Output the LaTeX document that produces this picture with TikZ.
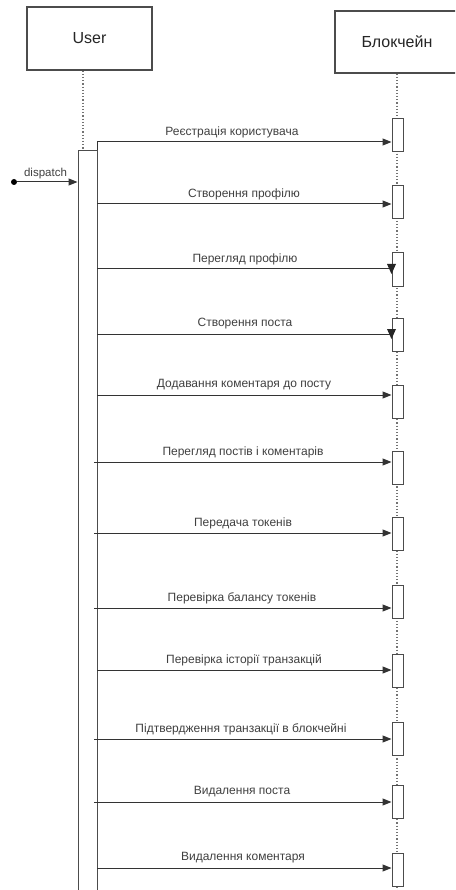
\documentclass[tikz,border=0pt]{standalone}
\usepackage{fontspec}
\setmainfont{Liberation Sans}
\usetikzlibrary{arrows.meta}
\begin{document}
\begin{tikzpicture}[x=1pt,y=-1pt,
 head/.style={draw=black!70, line width=1.2pt, fill=white, font=\fontsize{16}{18}\selectfont, text=black!85},
 actbox/.style={draw=black!70, line width=1pt, fill=white, minimum width=11pt, minimum height=33pt, inner sep=0pt},
 life/.style={draw=black!55, line width=1.2pt, dotted},
 msg/.style={draw=black!80, line width=1pt, -{Triangle[length=9pt,width=7pt]}},
 msgplain/.style={draw=black!80, line width=1pt},
 lbl/.style={font=\fontsize{12}{14}\selectfont, text=black!75, inner sep=0pt}]
\clip (0,0) rectangle (455,890);
\fill[white] (0,0) rectangle (455,890);
% headers
\node[head, minimum width=125pt, minimum height=63pt] (user) at (89.5,38.5) {User};
\node[head, minimum width=124pt, minimum height=62pt] (chain) at (397,42) {Блокчейн};
% lifelines
\coordinate (ul) at (83,151);
\draw[life] (user.south -| ul) -- (ul);
\coordinate (cl) at (397,890);
\draw[life] (chain.south) -- (cl);
% user activation
\node[draw=black!70, line width=1pt, fill=white, minimum width=19pt, minimum height=749pt, inner sep=0pt] (ubar) at (87.5,525.5) {};
% chain activations
\foreach \i/\y in {1/135,2/202,3/269.5,4/334.5,5/401.5,6/467.5,7/534,8/601.5,9/670.5,10/738.5,11/802,12/869.5}
  \node[actbox] (a\i) at (397.5,\y) {};
% messages
\coordinate (s1) at (97,142);
\draw[msg] (ubar.north east) |- (a1.west |- s1);
\node[lbl] (m1) at (232,132) {Реєстрація користувача};
\foreach \i/\sx/\my/\lx/\st/\txt in {
 2/97/204/244/msg/Створення профілю,
 3/97/269/245/msgplain/Перегляд профілю,
 4/97/334/245/msgplain/Створення поста,
 5/97/395/244/msg/Додавання коментаря до посту,
 6/94/462/243/msg/Перегляд постів і коментарів,
 7/94/533/243/msg/Передача токенів,
 8/94/608/242/msg/Перевірка балансу токенів,
 9/97/670/244/msg/Перевірка історії транзакцій,
 10/94/739/241/msg/Підтвердження транзакції в блокчейні,
 11/94/802/242/msg/Видалення поста,
 12/97/868/243/msg/Видалення коментаря}{
  \coordinate (s\i) at (\sx,\my);
  \draw[\st] (s\i) -- (s\i -| a\i.west);
  \node[lbl] (m\i) at (\lx,\my-10) {\txt};
}
% downward arrowheads on messages 3 and 4
\fill[black!85] ([xshift=-4.5pt,yshift=5pt]a3.west |- s3) -- ([xshift=4.5pt,yshift=5pt]a3.west |- s3) -- ([yshift=-5pt]a3.west |- s3) -- cycle;
\fill[black!85] ([xshift=-4.5pt,yshift=5pt]a4.west |- s4) -- ([xshift=4.5pt,yshift=5pt]a4.west |- s4) -- ([yshift=-5pt]a4.west |- s4) -- cycle;
% dispatch
\node[circle, fill=black, inner sep=0pt, minimum size=6pt] (start) at (14,182) {};
\draw[msg] (start) -- (start -| ubar.west);
\node[lbl, font=\fontsize{11.5}{13}\selectfont] (disp) at (45.5,174) {dispatch};
\end{tikzpicture}
\end{document}
